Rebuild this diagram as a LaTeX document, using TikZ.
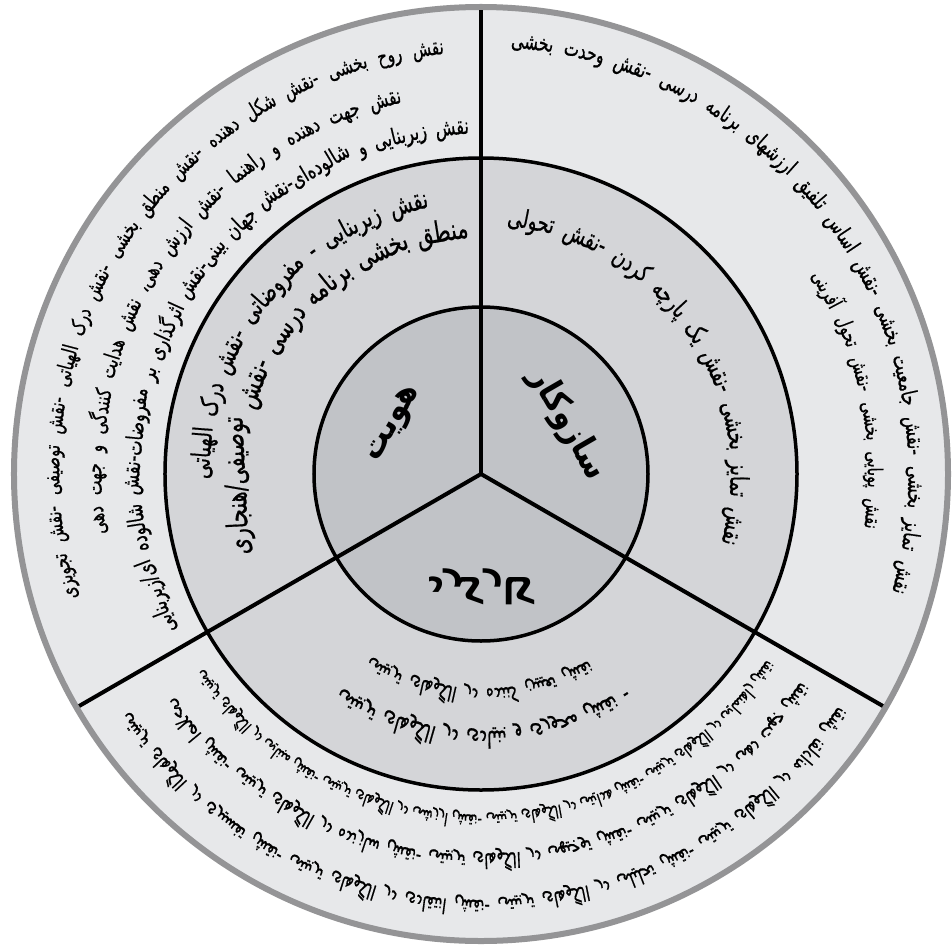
\documentclass[tikz,border=0pt]{standalone}
\usepackage{fontspec}
\usepackage{graphicx}
\TeXXeTstate=1
\newfontfamily\pfont[Script=Arabic,FakeBold=0.8]{DejaVu Sans}
\newfontfamily\lblfont[Script=Arabic]{DejaVu Sans}
\definecolor{ringA}{RGB}{231,232,234}
\definecolor{ringB}{RGB}{212,213,216}
\definecolor{ringC}{RGB}{193,195,199}
\definecolor{rimgray}{RGB}{148,148,150}
\newcommand\ftLbl{\lblfont\bfseries\fontsize{30}{36}\selectfont}
\newcommand\atVS{1.4}
\newcommand\atStrut{\rule[-0.25em]{0pt}{1.0em}}
\newdimen\atW
\newbox\atBox
\newcommand\atMeasure[2]{% #1 size, #2 word -> global \atW
  \pgfinterruptpicture
    \setbox\atBox\hbox{\pfont\fontsize{#1}{#1}\selectfont\beginR#2\endR}%
    \global\atW=\wd\atBox
  \endpgfinterruptpicture
}
% #1 glyph-centre radius, #2 start angle, #3 end angle, #4 u/f, #5 base size, #6 gap, #7 words
\newcommand\arctext[7]{%
  \gdef\atTot{0}\gdef\atN{0}%
  \foreach \w in {#7}{%
    \atMeasure{#5}{\w}%
    \pgfmathsetmacro\atTmp{\atTot+\the\atW}\global\let\atTot\atTmp
    \pgfmathsetmacro\atTmp{\atN+1}\global\let\atN\atTmp
  }%
  \pgfmathsetmacro\atSgn{((#3)>(#2))?1:-1}%
  \pgfmathsetmacro\atArc{abs((#3)-(#2))*pi/180*(#1)}%
  \pgfmathsetmacro\atSize{(#5)*(\atArc-(\atN-1)*(#6))/max(\atTot,1)}%
  \gdef\atCur{#2}%
  \foreach \w in {#7}{%
    \atMeasure{\atSize}{\w}%
    \pgfmathsetmacro\atD{\atSgn*(\the\atW)/(#1)*180/pi}%
    \pgfmathsetmacro\atMid{\atCur+\atD/2}%
    \if#4u%
      \node[rotate=\atMid-90,anchor=center,inner sep=0pt] at (\atMid:#1pt) {\scalebox{1}[\atVS]{\pfont\fontsize{\atSize}{\atSize}\selectfont\atStrut\beginR\w\endR}};%
    \else
      \node[rotate=\atMid+90,anchor=center,inner sep=0pt] at (\atMid:#1pt) {\scalebox{1}[-\atVS]{\pfont\fontsize{\atSize}{\atSize}\selectfont\atStrut\beginR\w\endR}};%
    \fi
    \pgfmathsetmacro\atTmp{\atCur+\atD+\atSgn*(#6)/(#1)*180/pi}%
    \global\let\atCur\atTmp
  }%
}
\begin{document}
\begin{tikzpicture}[x=1pt,y=1pt]
\useasboundingbox (-481pt,-474pt) rectangle (471pt,474pt);
\fill[white] (-481pt,-474pt) rectangle (471pt,474pt);
% rings
\fill[ringA] (0,0) circle (465pt);
\draw[rimgray, line width=6pt] (0,0) circle (467pt);
\filldraw[fill=ringB, draw=black, line width=3.5pt] (0,0) circle (316pt);
\filldraw[fill=ringC, draw=black, line width=3.5pt] (0,0) circle (167pt);
% dividers
\coordinate (c) at (0,0);
\coordinate (eTop) at (90:464pt);
\coordinate (eRight) at (-30:464pt);
\coordinate (eLeft) at (210:464pt);
\draw[line width=4pt] (c) -- (eTop);
\draw[line width=4pt] (c) -- (eRight);
\draw[line width=4pt] (c) -- (eLeft);
% labels
\node[rotate=60] (lblHoviat) at (150:100pt) {\scalebox{1}[1.15]{\ftLbl\beginR هویت\endR}};
\node[rotate=-60] (lblSaz) at (30:100pt) {\scalebox{1}[1.15]{\ftLbl\beginR سازوکار\endR}};
\node (lblKar) at (270:113pt) {\scalebox{1.1}[-1.2]{\ftLbl\beginR کارکرد\endR}};
% outer ring, upper left
\arctext{427}{95}{197}{u}{17}{11}{نقش,روح,بخشی,-نقش,شکل,دهنده,-نقش,منطق,بخشی,-نقش,درک,الهیاتی,-نقش,توصیفی,-نقش,تجویزی}
\arctext{385}{102}{189}{u}{17}{11}{نقش,جهت,دهنده,و,راهنما,-نقش,ارزش,دهی،,نقش,هدایت,کنندگی,و,جهت,دهی}
\arctext{346}{92}{207}{u}{17}{9}{نقش,زیربنایی,و,شالوده‌ای-نقش,جهان,بینی-نقش,اثرگذاری,بر,مفروضات-نقش,شالوده,ای/زیربنایی}
% outer ring, upper right
\arctext{433}{-16}{86}{u}{17}{11}{نقش,تمایز,بخشی,-نقش,جامعیت,بخشی,-نقش,اساس,تلفیق,ارزشهای,برنامه,درسی,-نقش,وحدت,بخشی}
\arctext{392}{-8}{31}{u}{17}{11}{نقش,پویایی,بخشی,-نقش,تحول,آفرینی}
% middle ring, upper left
\arctext{278}{101}{181}{u}{17}{11}{نقش,زیربنایی,-,مفروضاتی,-نقش,درک,الهیاتی}
\arctext{243}{93}{199}{u}{17}{10}{منطق,بخشی,برنامه,درسی,-نقش,توصیفی/هنجاری}
% middle ring, upper right
\arctext{256}{-16}{84}{u}{17}{11}{نقش,تمایز,بخشی,-نقش,یک,پارچه,کردن,-نقش,تحولی}
% middle ring, bottom (mirrored)
\arctext{220}{300}{239}{f}{13}{8}{نقش,تعیین,کننده,در,الگوهای,تربیتی}
\arctext{263}{304}{237}{f}{13}{8}{-,نقش,محوری,و,بنیادی,در,الگوهای,تربیتی}
% outer ring, bottom (mirrored)
\arctext{345}{327}{215}{f}{13}{4}{نقش,راهنمایی,در,الگوهای,تربیتی,-نقش,هدایتی,در,الگوهای,تربیتی,-نقش,ارزشی,در,الگوهای,تربیتی,-نقش,مبنایی,در,الگوهای,تربیتی}
\arctext{386}{327}{216}{f}{13}{7}{نقش,جهت,دهی,در,الگوهای,تربیتی,-نقش,توجیهی,در,الگوهای,تربیتی,-نقش,سازنده,در,الگوهای,تربیتی,-نقش,اصلاحی}
\arctext{431}{327}{214}{f}{13}{8}{نقش,نقادانه,در,الگوهای,تربیتی,-نقش,تحلیلی,در,الگوهای,تربیتی,-نقش,انتقادی,در,الگوهای,تربیتی,-نقش,تفسیری,در,الگوهای,تربیتی}
\end{tikzpicture}
\end{document}
